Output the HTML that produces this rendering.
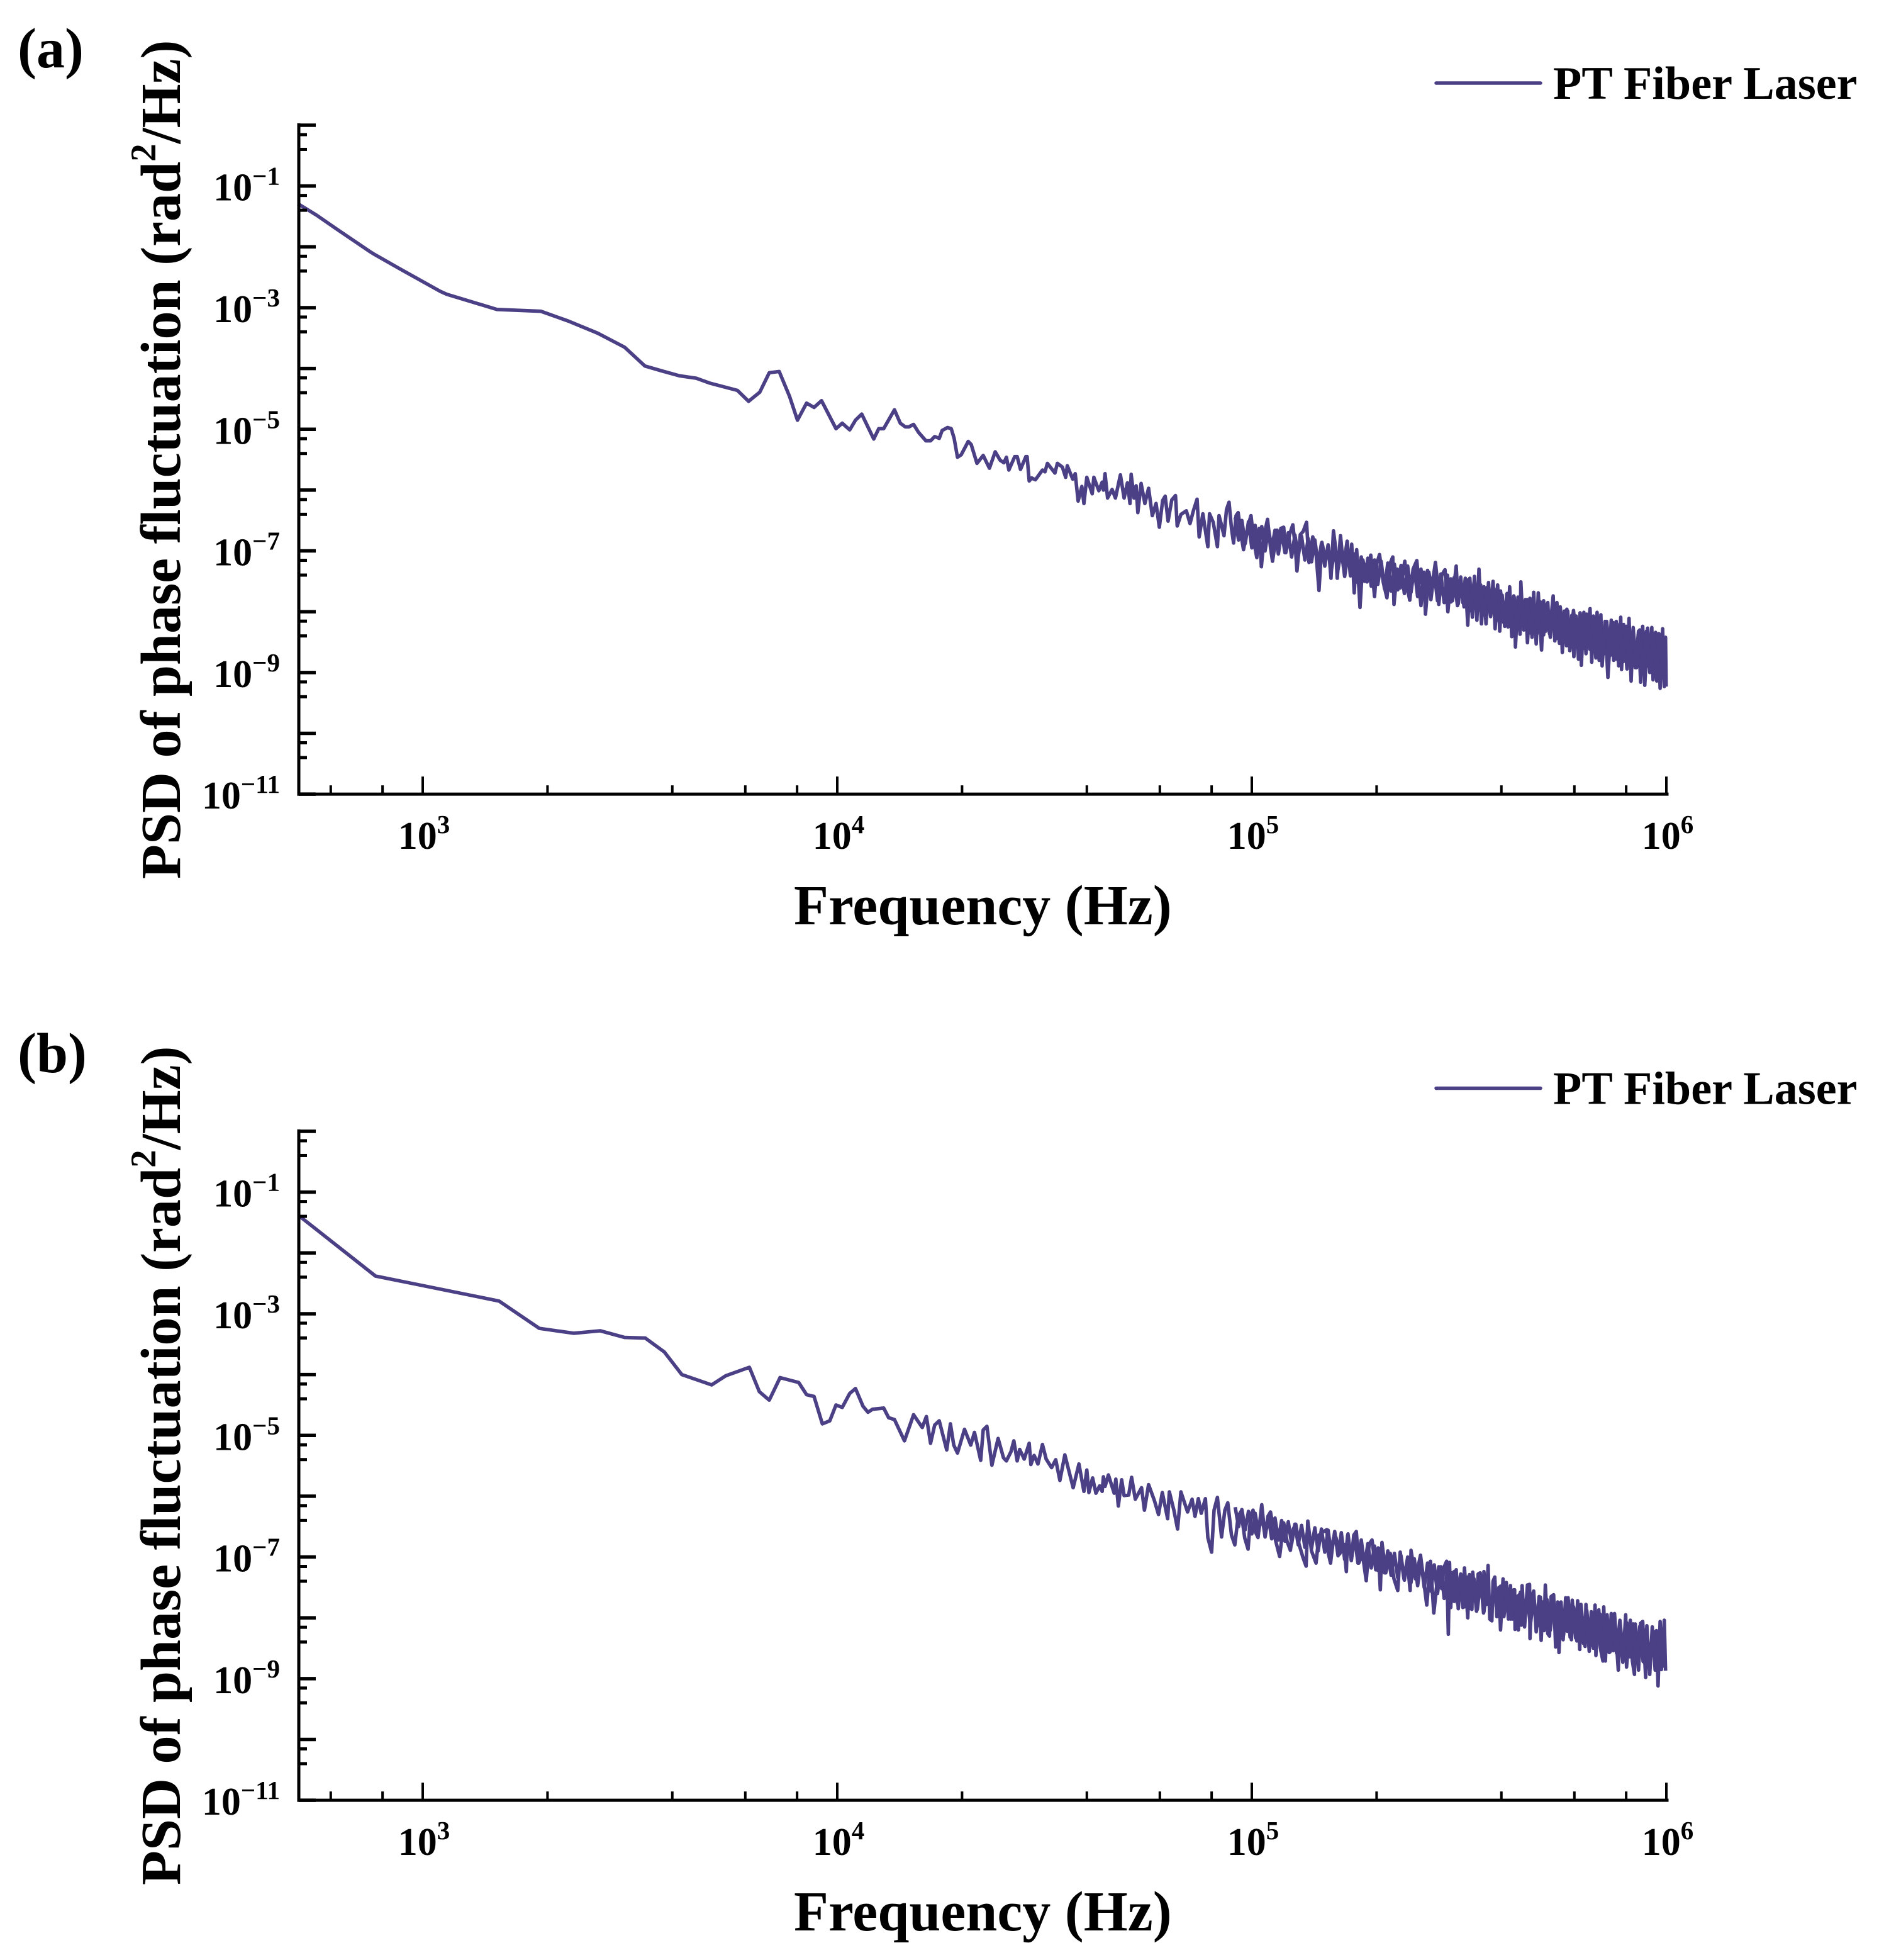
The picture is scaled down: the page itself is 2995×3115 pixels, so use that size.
<!DOCTYPE html>
<html lang="en">
<head>
<meta charset="utf-8">
<title>PSD of phase fluctuation: PT Fiber Laser</title>
<style>
html,body{margin:0;padding:0;background:#fff;}
body{width:2995px;height:3115px;overflow:hidden;}
svg{display:block;}
text{font-family:"Liberation Serif",serif;font-weight:bold;fill:#000;}
</style>
</head>
<body>
<svg id="chart" width="2995" height="3115" viewBox="0 0 2995 3115" xmlns="http://www.w3.org/2000/svg">
  <rect x="0" y="0" width="2995" height="3115" fill="#fff"/>

  <g id="panel-a">
    <text x="28" y="107" font-size="90">(a)</text>
    <text transform="translate(286,1397) rotate(-90)" font-size="90">PSD of phase fluctuation (rad<tspan font-size="57" dy="-39">2</tspan><tspan dy="39">/Hz)</tspan></text>
    <text x="1262" y="1469" font-size="90">Frequency (Hz)</text>
    <line x1="2283" y1="132" x2="2449" y2="132" stroke="#4b3f85" stroke-width="5.5" stroke-linecap="round"/>
    <text x="2469" y="157" font-size="74.2">PT Fiber Laser</text>
  </g>

  <g id="panel-b">
    <text x="28" y="1704" font-size="90">(b)</text>
    <text transform="translate(286,2996) rotate(-90)" font-size="90">PSD of phase fluctuation (rad<tspan font-size="57" dy="-39">2</tspan><tspan dy="39">/Hz)</tspan></text>
    <text x="1262" y="3068" font-size="90">Frequency (Hz)</text>
    <line x1="2283" y1="1729.5" x2="2449" y2="1729.5" stroke="#4b3f85" stroke-width="5.5" stroke-linecap="round"/>
    <text x="2469" y="1754.5" font-size="74.2">PT Fiber Laser</text>
  </g>
</svg>

<script>
// Tick definitions (decades and sub-decade multipliers)
const xMajorExponents = [3, 4, 5, 6];
const xMinorMultipliers = [2, 4, 6, 8];
const xMinorDecades = [2, 3, 4, 5];
const yMajorExponents = [0, -1, -2, -3, -4, -5, -6, -7, -8, -9, -10, -11];
const yLabelExponents = [-1, -3, -5, -7, -9, -11];
const yMinorFactors = [0.7, 0.4];

// Panel (a): log10(frequency / Hz)
const logFreqA = [
2.699,2.744,2.795,2.873,2.880,2.947,3.042,3.058,3.179,3.285,3.351,3.422,3.487,3.536,3.577,3.619,3.660,3.692,3.759,3.786,
3.813,3.836,3.860,3.885,3.904,3.926,3.944,3.962,3.997,4.012,4.030,4.044,4.059,4.088,4.100,4.112,4.138,4.152,4.164,4.173,
4.184,4.196,4.214,4.225,4.235,4.246,4.253,4.266,4.275,4.282,4.290,4.299,4.316,4.323,4.337,4.352,4.367,4.381,4.393,4.402,
4.408,4.414,4.428,4.434,4.442,4.455,4.458,4.463,4.469,4.478,4.495,4.501,4.507,4.525,4.531,4.543,4.551,4.555,4.568,4.574,
4.581,4.590,4.595,4.602,4.615,4.619,4.631,4.639,4.642,4.646,4.652,4.663,4.671,4.683,4.692,4.700,4.706,4.709,4.716,4.721,
4.725,4.733,4.742,4.751,4.760,4.769,4.777,4.785,4.791,4.798,4.807,4.816,4.820,4.829,4.842,4.851,4.859,4.868,4.873,4.882,
4.894,4.898,4.907,4.917,4.921,4.926,4.933,4.939,4.945,4.951,4.956,4.962,4.967,4.974,4.980,4.991,4.998,5.005,5.012,5.018,
5.023,5.030,5.038,5.045,5.050,5.061,5.064,5.070,5.077,5.082,5.091,5.099,5.105,5.109,5.117,5.124,5.132,5.138,5.147,5.155,
5.162,5.169,5.178,5.185,5.191,5.197,5.202,5.206,5.214,5.221,5.230,5.238,5.241,5.247,5.253,5.261,5.268,5.278,5.287,5.296,
5.302,5.308,5.317,5.326,5.334,5.340,5.343,5.351,5.358,5.369,5.375,5.381,5.389,5.398,5.404,5.408,5.415,5.419,5.427,5.434,
5.443,5.448,5.451,5.458,5.466,5.473,5.480,5.484,5.493,5.498,5.504,5.509,5.515,5.521,5.526,5.532,5.537,5.543,5.548,5.554,
5.560,5.565,5.571,5.576,5.582,5.587,5.593,5.598,5.604,5.610,5.615,5.618,5.622,5.627,5.633,5.636,5.642,5.647,5.649,5.654,
5.660,5.665,5.671,5.676,5.680,5.686,5.691,5.699,5.704,5.709,5.714,5.718,5.727,5.731,5.736,5.742,5.746,5.749,5.754,5.759,
5.762,5.767,5.772,5.777,5.782,5.788,5.792,5.795,5.801,5.806,5.816,5.820,5.824,5.830,5.833,5.838,5.842,5.845,5.852,5.859,
5.867,5.873,5.879,5.885,5.890,5.892,5.897,5.905,5.910,5.915,5.920,5.925,5.933,5.938,5.943,5.948,5.955,5.958,5.965,5.968,
5.974,5.977,5.982,5.985,5.991,5.995,5.998,5.9995
];
// Panel (a): log10(PSD / rad^2 Hz^-1)
const logPsdA = [
-1.29,-1.48,-1.72,-2.08,-2.11,-2.37,-2.73,-2.78,-3.03,-3.06,-3.22,-3.42,-3.65,-3.96,-4.04,-4.12,-4.16,-4.24,-4.36,-4.54,
-4.39,-4.07,-4.05,-4.46,-4.85,-4.57,-4.64,-4.53,-4.99,-4.90,-5.01,-4.85,-4.75,-5.16,-4.99,-4.99,-4.68,-4.90,-4.96,-4.96,
-4.92,-5.05,-5.19,-5.19,-5.12,-5.15,-5.02,-4.97,-4.99,-5.15,-5.46,-5.42,-5.20,-5.25,-5.56,-5.43,-5.64,-5.37,-5.51,-5.55,
-5.46,-5.67,-5.45,-5.45,-5.66,-5.45,-5.45,-5.85,-5.80,-5.83,-5.67,-5.70,-5.56,-5.72,-5.56,-5.62,-5.79,-5.60,-5.82,-5.73,
-6.18,-5.94,-6.22,-5.79,-6.06,-5.79,-6.01,-5.87,-6.00,-5.73,-6.13,-5.99,-6.13,-5.75,-6.13,-5.88,-6.22,-5.74,-6.13,-5.93,
-6.37,-5.89,-6.22,-5.97,-6.42,-6.22,-6.61,-6.17,-6.10,-6.51,-6.16,-6.09,-6.59,-6.40,-6.34,-6.55,-6.34,-6.15,-6.77,-6.39,
-6.93,-6.39,-6.53,-6.93,-6.42,-6.55,-6.75,-6.32,-6.20,-6.63,-6.87,-6.42,-6.37,-6.73,-6.98,-6.58,-6.42,-6.84,-7.11,-6.63,
-7.26,-6.73,-6.48,-6.94,-7.17,-6.66,-6.98,-6.63,-6.61,-7.03,-6.73,-6.57,-6.94,-7.33,-6.73,-6.68,-6.53,-7.19,-6.77,-7.04,
-7.65,-6.86,-7.15,-6.94,-7.45,-6.67,-6.94,-7.45,-6.75,-7.25,-6.84,-7.41,-6.89,-7.69,-6.98,-7.93,-7.15,-7.51,-7.07,-7.75,
-7.20,-7.06,-7.51,-7.77,-7.20,-7.10,-7.88,-7.30,-7.61,-7.17,-7.61,-7.81,-7.30,-7.16,-7.61,-7.90,-7.35,-8.04,-7.35,-7.61,
-7.19,-7.51,-7.88,-7.40,-7.31,-8.00,-7.46,-7.82,-7.25,-7.87,-7.43,-7.85,-7.45,-8.22,-7.45,-8.09,-7.42,-8.14,-7.30,-8.20,
-7.59,-8.20,-7.52,-8.06,-7.50,-8.28,-7.56,-8.32,-7.73,-8.24,-7.71,-8.25,-7.59,-8.41,-7.76,-8.58,-7.76,-8.37,-7.51,-8.21,
-7.80,-8.51,-7.78,-8.42,-7.68,-8.53,-7.69,-8.63,-7.82,-8.32,-7.85,-8.36,-7.74,-8.48,-7.85,-8.52,-8.07,-8.67,-7.99,-8.56,
-7.99,-8.64,-8.06,-8.74,-8.07,-8.78,-8.02,-8.88,-8.01,-8.69,-7.95,-8.83,-8.07,-8.76,-8.01,-8.80,-8.05,-8.89,-8.16,-9.08,
-8.14,-8.80,-8.16,-8.89,-8.09,-8.95,-8.21,-8.94,-8.11,-9.14,-8.26,-8.92,-8.32,-9.16,-8.24,-9.21,-8.27,-8.90,-8.26,-9.12,
-8.34,-9.14,-8.36,-9.26,-8.28,-9.23,-8.42,-9.23
];

// Panel (b): log10(frequency / Hz)
const logFreqB = [
2.700,2.886,3.184,3.281,3.364,3.428,3.487,3.537,3.583,3.625,3.697,3.731,3.788,3.812,3.836,3.862,3.907,3.926,3.944,3.964,
3.982,3.997,4.012,4.030,4.044,4.062,4.074,4.085,4.112,4.124,4.138,4.162,4.184,4.205,4.215,4.225,4.235,4.246,4.264,4.273,
4.281,4.290,4.307,4.322,4.331,4.346,4.352,4.361,4.373,4.388,4.401,4.408,4.419,4.426,4.434,4.440,4.451,4.463,4.467,4.475,
4.484,4.495,4.504,4.517,4.527,4.537,4.549,4.569,4.583,4.595,4.602,4.607,4.616,4.624,4.633,4.639,4.642,4.646,4.654,4.668,
4.672,4.678,4.686,4.692,4.703,4.710,4.719,4.734,4.741,4.751,4.765,4.775,4.784,4.797,4.801,4.812,4.821,4.829,4.845,4.856,
4.863,4.871,4.878,4.888,4.894,4.903,4.909,4.917,4.927,4.935,4.942,4.951,4.959,4.967,4.974,4.983,4.991,4.997,5.003,5.009,
5.015,5.024,5.032,5.039,5.045,5.056,5.067,5.077,5.085,5.093,5.100,5.106,5.114,5.123,5.131,5.135,5.144,5.155,5.162,5.171,
5.181,5.185,5.190,5.197,5.203,5.212,5.222,5.228,5.231,5.240,5.246,5.252,5.258,5.267,5.276,5.283,5.290,5.299,5.305,5.310,
5.314,5.323,5.334,5.343,5.352,5.358,5.367,5.375,5.382,5.384,5.395,5.407,5.415,5.422,5.431,5.439,5.451,5.458,5.464,5.470,
5.474,5.477,5.480,5.483,5.488,5.493,5.498,5.503,5.509,5.513,5.521,5.525,5.531,5.533,5.542,5.546,5.551,5.559,5.560,5.566,
5.570,5.574,5.579,5.582,5.586,5.591,5.596,5.600,5.606,5.608,5.614,5.619,5.624,5.628,5.634,5.635,5.642,5.643,5.645,5.650,
5.652,5.658,5.665,5.670,5.671,5.675,5.680,5.686,5.693,5.698,5.702,5.705,5.708,5.714,5.718,5.722,5.728,5.733,5.738,5.741,
5.746,5.751,5.757,5.761,5.763,5.771,5.773,5.781,5.786,5.791,5.794,5.804,5.806,5.814,5.819,5.824,5.828,5.830,5.837,5.842,
5.847,5.849,5.853,5.857,5.862,5.867,5.872,5.875,5.884,5.887,5.895,5.902,5.904,5.913,5.918,5.923,5.925,5.933,5.938,5.943,
5.950,5.953,5.960,5.966,5.973,5.976,5.980,5.985,5.988,5.995,5.998
];
// Panel (b): log10(PSD / rad^2 Hz^-1)
const logPsdB = [
-1.38,-2.38,-2.79,-3.24,-3.32,-3.28,-3.39,-3.40,-3.63,-4.00,-4.17,-4.02,-3.88,-4.28,-4.42,-4.05,-4.13,-4.33,-4.36,-4.81,
-4.76,-4.50,-4.54,-4.31,-4.23,-4.52,-4.62,-4.57,-4.55,-4.71,-4.74,-5.09,-4.66,-4.87,-4.69,-5.13,-4.83,-4.76,-5.24,-4.81,
-5.16,-5.29,-4.90,-5.16,-4.95,-5.41,-4.91,-4.85,-5.49,-5.05,-5.37,-5.42,-5.27,-5.09,-5.42,-5.23,-5.39,-5.13,-5.48,-5.33,
-5.47,-5.15,-5.39,-5.53,-5.40,-5.74,-5.32,-5.86,-5.47,-5.92,-5.57,-5.94,-5.70,-5.95,-5.83,-5.92,-5.68,-5.84,-5.65,-5.95,
-5.72,-6.16,-5.73,-5.99,-5.98,-5.69,-6.05,-5.86,-6.23,-5.81,-6.07,-6.30,-5.94,-6.37,-5.93,-6.23,-6.54,-5.93,-6.26,-6.05,
-6.33,-6.04,-6.28,-6.04,-6.68,-6.92,-6.23,-6.02,-6.67,-6.23,-6.11,-6.64,-6.80,-6.33,-6.25,-6.69,-6.87,-6.33,-6.23,-6.59,
-6.68,-6.14,-6.67,-6.33,-6.26,-6.69,-6.99,-6.44,-6.74,-6.89,-6.54,-6.46,-6.79,-7.00,-7.15,-6.41,-6.90,-7.10,-6.64,-6.59,
-6.55,-6.95,-7.10,-6.69,-6.68,-6.95,-6.79,-7.24,-6.65,-7.05,-6.64,-6.58,-7.10,-6.95,-7.39,-6.79,-6.72,-7.21,-6.85,-7.54,
-6.76,-7.26,-6.94,-7.36,-7.55,-6.92,-7.36,-7.05,-7.55,-6.89,-7.36,-6.97,-7.41,-7.79,-7.07,-7.92,-7.16,-7.52,-7.16,-7.07,
-8.27,-7.09,-7.83,-7.26,-7.73,-7.21,-7.85,-7.31,-7.83,-7.18,-8.00,-7.29,-7.86,-7.25,-7.89,-7.28,-7.26,-7.92,-7.24,-7.78,
-7.14,-8.02,-8.05,-7.40,-7.33,-7.98,-7.50,-8.20,-7.36,-7.95,-7.42,-8.02,-7.47,-8.02,-7.54,-8.19,-7.64,-8.20,-7.62,-8.12,
-7.47,-8.15,-7.46,-7.45,-8.34,-7.66,-7.56,-8.23,-7.65,-8.37,-7.74,-8.21,-7.46,-8.26,-8.30,-7.65,-7.62,-8.48,-7.74,-8.57,
-7.74,-8.36,-7.67,-8.22,-7.67,-8.36,-7.71,-8.33,-7.72,-8.52,-7.78,-8.47,-7.78,-8.55,-7.90,-8.50,-7.79,-8.62,-7.87,-8.54,
-8.71,-7.82,-8.71,-7.95,-8.57,-7.93,-8.54,-7.93,-8.86,-8.17,-8.73,-7.95,-8.81,-8.04,-8.71,-8.93,-8.10,-8.86,-8.09,-8.06,
-8.98,-8.13,-8.93,-8.15,-8.86,-8.21,-9.12,-8.06,-8.85,-8.04,-8.87
];

// Densely sampled core of the noise band (frequency shared by both panels)
const logFreqCore = [
4.960,4.968,4.976,4.984,4.992,5.000,5.008,5.016,5.024,5.032,5.040,5.048,5.056,5.064,5.072,5.080,5.088,5.096,5.104,5.112,
5.120,5.128,5.136,5.144,5.152,5.160,5.168,5.176,5.184,5.192,5.200,5.208,5.216,5.224,5.232,5.240,5.248,5.256,5.264,5.272,
5.280,5.288,5.296,5.304,5.312,5.320,5.328,5.336,5.344,5.352,5.360,5.368,5.376,5.384,5.392,5.400,5.408,5.416,5.424,5.432,
5.440,5.448,5.456,5.464,5.472,5.480,5.488,5.496,5.504,5.512,5.520,5.528,5.536,5.544,5.552,5.560,5.568,5.576,5.584,5.592,
5.600,5.608,5.616,5.624,5.632,5.640,5.648,5.656,5.664,5.672,5.680,5.688,5.696,5.704,5.712,5.720,5.728,5.736,5.744,5.752,
5.760,5.768,5.776,5.784,5.792,5.800,5.808,5.816,5.824,5.832,5.840,5.848,5.856,5.864,5.872,5.880,5.888,5.896,5.904,5.912,
5.920,5.928,5.936,5.944,5.952,5.960,5.968,5.976,5.984,5.992
];
const logPsdCoreA = [
-6.45,-6.82,-6.50,-6.88,-6.52,-6.95,-6.58,-6.98,-6.60,-7.00,-6.63,-6.96,-6.66,-7.05,-6.68,-7.03,-6.70,-7.10,-6.74,-7.08,
-6.76,-7.15,-6.80,-7.18,-6.82,-7.22,-6.88,-7.25,-6.90,-7.32,-6.95,-7.30,-6.98,-7.42,-7.02,-7.40,-7.05,-7.52,-7.10,-7.50,
-7.12,-7.58,-7.15,-7.55,-7.17,-7.62,-7.20,-7.66,-7.22,-7.64,-7.24,-7.70,-7.25,-7.68,-7.28,-7.75,-7.30,-7.74,-7.32,-7.80,
-7.35,-7.82,-7.38,-7.85,-7.40,-7.84,-7.44,-7.90,-7.47,-7.92,-7.48,-7.98,-7.52,-8.00,-7.56,-8.05,-7.60,-8.08,-7.62,-8.14,
-7.66,-8.18,-7.70,-8.20,-7.74,-8.24,-7.76,-8.30,-7.80,-8.35,-7.82,-8.36,-7.84,-8.38,-7.88,-8.42,-7.90,-8.44,-7.92,-8.50,
-7.96,-8.52,-7.98,-8.56,-8.02,-8.60,-8.04,-8.62,-8.08,-8.66,-8.10,-8.70,-8.16,-8.72,-8.18,-8.78,-8.20,-8.82,-8.24,-8.86,
-8.28,-8.92,-8.30,-8.96,-8.32,-9.00,-8.36,-9.04,-8.38,-9.06
];
const logPsdCoreB = [
-6.18,-6.50,-6.22,-6.55,-6.25,-6.62,-6.28,-6.60,-6.30,-6.66,-6.34,-6.70,-6.36,-6.72,-6.40,-6.74,-6.42,-6.78,-6.46,-6.80,
-6.48,-6.84,-6.50,-6.86,-6.52,-6.90,-6.54,-6.92,-6.56,-6.96,-6.58,-6.98,-6.60,-7.04,-6.62,-7.06,-6.66,-7.10,-6.72,-7.14,
-6.78,-7.18,-6.82,-7.22,-6.86,-7.26,-6.90,-7.30,-6.94,-7.34,-6.98,-7.38,-7.00,-7.42,-7.03,-7.47,-7.06,-7.50,-7.10,-7.56,
-7.13,-7.60,-7.16,-7.68,-7.20,-7.70,-7.24,-7.76,-7.28,-7.82,-7.33,-7.85,-7.36,-7.86,-7.38,-7.90,-7.42,-7.92,-7.46,-7.96,
-7.48,-7.98,-7.52,-8.02,-7.54,-8.05,-7.58,-8.08,-7.62,-8.12,-7.64,-8.14,-7.66,-8.16,-7.70,-8.20,-7.72,-8.24,-7.76,-8.28,
-7.78,-8.32,-7.82,-8.38,-7.85,-8.42,-7.88,-8.46,-7.92,-8.50,-7.94,-8.52,-7.98,-8.56,-8.00,-8.58,-8.04,-8.62,-8.08,-8.64,
-8.10,-8.68,-8.14,-8.72,-8.18,-8.76,-8.22,-8.80,-8.24,-8.82
];

const SVG_NS = 'http://www.w3.org/2000/svg';
const LINE_COLOR = '#4b3f85';
const plotLeft = 475;
const plotRight = 2650;
const xAtDecade3 = 672;
const pxPerXDecade = 659;
const pxPerYDecade = 96.65;

function xScale(logF) {
  return xAtDecade3 + (logF - 3) * pxPerXDecade;
}
function yScale(logP, plotTop) {
  return plotTop - logP * pxPerYDecade;
}
function make(tag, attrs) {
  const node = document.createElementNS(SVG_NS, tag);
  Object.keys(attrs).forEach(function (k) { node.setAttribute(k, attrs[k]); });
  return node;
}
function powerLabel(x, y, anchor, exponent) {
  const t = make('text', { x: x, y: y, 'text-anchor': anchor, 'font-size': 62 });
  t.appendChild(document.createTextNode('10'));
  const sup = make('tspan', { 'font-size': 41, dy: -25 });
  sup.textContent = String(exponent).replace('-', '\u2212');
  t.appendChild(sup);
  return t;
}
function seriesPoints(logFreq, logPsd, plotTop) {
  const n = Math.min(logFreq.length, logPsd.length);
  const pts = [];
  for (let i = 0; i < n; i++) {
    pts.push(xScale(logFreq[i]).toFixed(1) + ',' + yScale(logPsd[i], plotTop).toFixed(1));
  }
  return pts.join(' ');
}

function drawPanel(groupId, suffix, plotTop, logFreq, logPsd, logPsdCore) {
  const g = document.getElementById(groupId);
  const plotBottom = yScale(-11, plotTop);

  // Series
  const series = make('polyline', { points: seriesPoints(logFreq, logPsd, plotTop), fill: 'none', stroke: LINE_COLOR, 'stroke-width': 5.6, 'stroke-linejoin': 'round', 'stroke-linecap': 'butt' });
  
  
  g.appendChild(series);

  const core = make('polyline', { points: seriesPoints(logFreqCore, logPsdCore, plotTop), fill: 'none', stroke: LINE_COLOR, 'stroke-width': 5.6, 'stroke-linejoin': 'round', 'stroke-linecap': 'butt' });
  
  
  g.appendChild(core);

  // Axes
  const yAxis = make('line', { x1: plotLeft, y1: plotTop - 3, x2: plotLeft, y2: plotBottom + 2.5, stroke: '#000', 'stroke-width': 5 });
  
  
  g.appendChild(yAxis);

  const xAxis = make('line', { x1: plotLeft - 2.5, y1: plotBottom, x2: plotRight + 2.5, y2: plotBottom, stroke: '#000', 'stroke-width': 5 });
  
  
  g.appendChild(xAxis);

  // Y ticks
  yMajorExponents.forEach(function (e) {
    const y = yScale(e, plotTop);
    const tick = make('line', { x1: plotLeft, y1: y, x2: 502, y2: y, stroke: '#000', 'stroke-width': 5.5 });
    
    
    g.appendChild(tick);
    if (e > -11) {
      yMinorFactors.forEach(function (f) {
        const ym = yScale(e + Math.log10(f), plotTop);
        const minor = make('line', { x1: plotLeft, y1: ym, x2: 488, y2: ym, stroke: '#000', 'stroke-width': 5 });
        
        
        g.appendChild(minor);
      });
    }
  });
  yLabelExponents.forEach(function (e) {
    const label = powerLabel(445, yScale(e, plotTop) + 23, 'end', e);
    
    
    g.appendChild(label);
  });

  // X ticks
  xMajorExponents.forEach(function (e) {
    const x = xScale(e);
    const tick = make('line', { x1: x, y1: plotBottom, x2: x, y2: plotBottom - 28, stroke: '#000', 'stroke-width': 4 });
    
    
    g.appendChild(tick);
    const label = powerLabel(x + 2, plotBottom + 87, 'middle', e);
    
    
    g.appendChild(label);
  });
  xMinorDecades.forEach(function (d) {
    xMinorMultipliers.forEach(function (m) {
      const lf = d + Math.log10(m);
      if (xScale(lf) < plotLeft) { return; }
      const x = xScale(lf);
      const minor = make('line', { x1: x, y1: plotBottom, x2: x, y2: plotBottom - 14, stroke: '#000', 'stroke-width': 4 });
      
      
      g.appendChild(minor);
    });
  });
}

drawPanel('panel-a', 'a', 199, logFreqA, logPsdA, logPsdCoreA);
drawPanel('panel-b', 'b', 1798, logFreqB, logPsdB, logPsdCoreB);
</script>
</body>
</html>
